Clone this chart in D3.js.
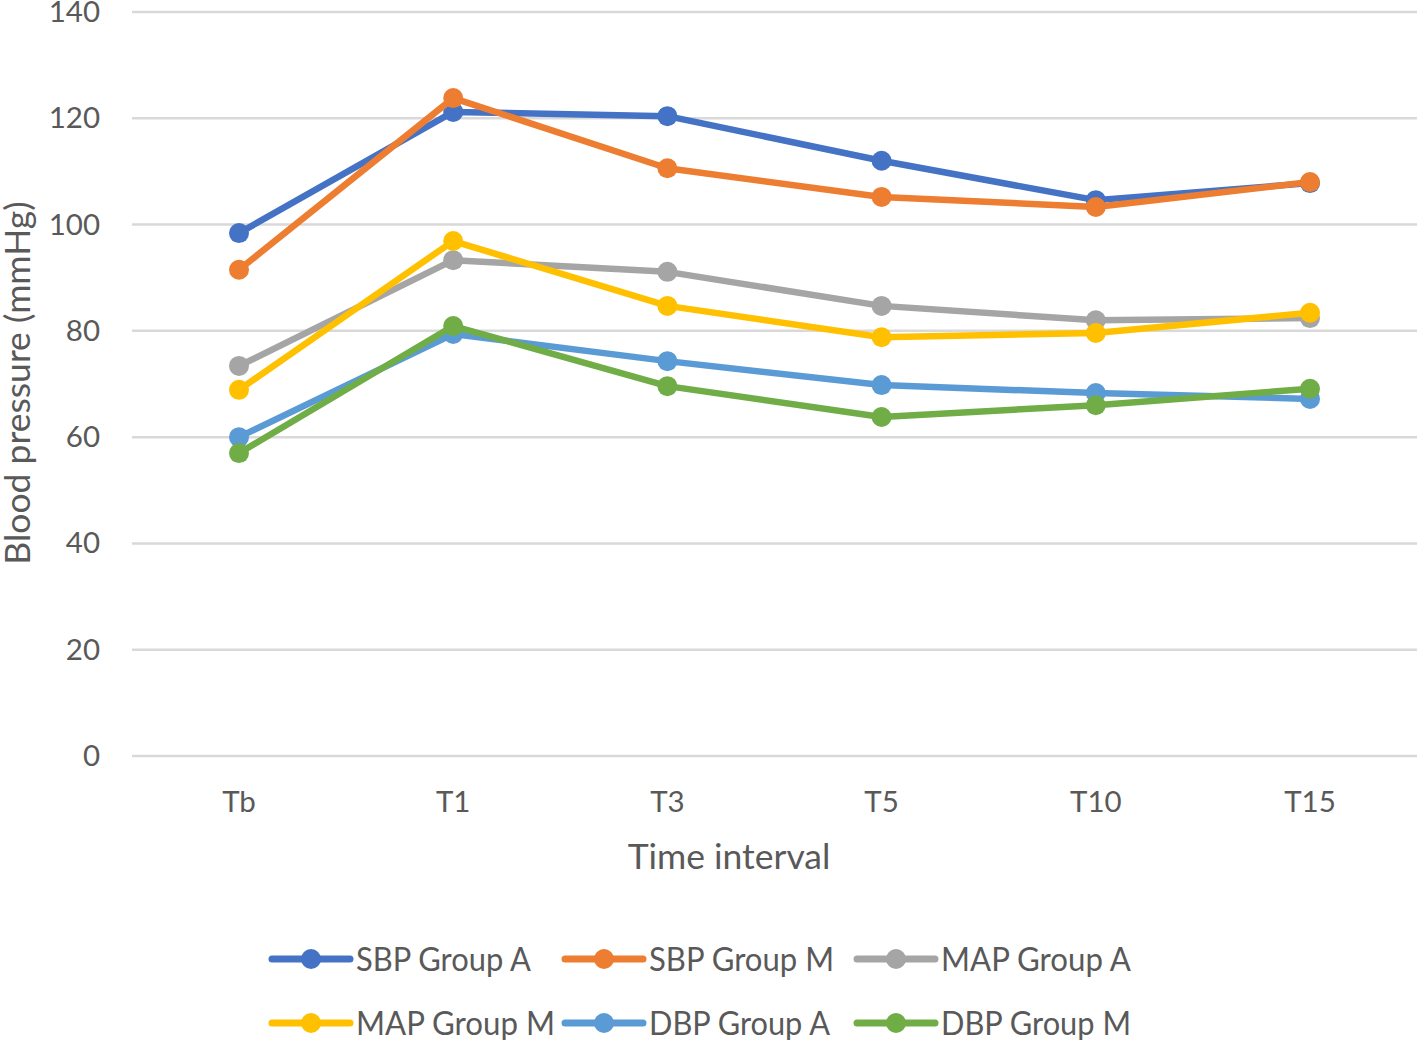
<!DOCTYPE html>
<html><head><meta charset="utf-8">
<script src="https://cdn.jsdelivr.net/npm/d3@7"></script>
<style>body{margin:0;background:#fff}svg{display:block}text{font-family:Lato,"Open Sans",sans-serif;fill:#595959}</style>
</head><body>
<script>
const categories = ["Tb","T1","T3","T5","T10","T15"];
const seriesNames = ["SBP Group A","SBP Group M","MAP Group A","MAP Group M","DBP Group A","DBP Group M"];
const sbpA = [98.4,121.2,120.4,112.0,104.6,107.8];
const sbpM = [91.5,123.8,110.6,105.2,103.3,108.0];
const mapA = [73.4,93.3,91.1,84.7,82.0,82.4];
const mapM = [68.9,96.9,84.7,78.8,79.6,83.4];
const dbpA = [60.0,79.4,74.3,69.8,68.3,67.2];
const dbpM = [57.0,80.9,69.6,63.8,66.0,69.1];
const colors = ["#4472C4","#ED7D31","#A5A5A5","#FFC000","#5B9BD5","#70AD47"];
const yTicks = [0,20,40,60,80,100,120,140];
const series = [sbpA,sbpM,mapA,mapM,dbpA,dbpM];

const W=1417,H=1040;
const svg=d3.select("body").append("svg").attr("width",W).attr("height",H);
const x=d3.scalePoint().domain(categories).range([239,1310]);
const y=d3.scaleLinear().domain([0,140]).range([756,12]);

svg.append("g").selectAll("line").data(yTicks).join("line")
 .attr("x1",132).attr("x2",1417).attr("y1",d=>y(d)).attr("y2",d=>y(d))
 .attr("stroke","#D9D9D9").attr("stroke-width",2.5);
svg.append("g").selectAll("text").data(yTicks).join("text")
 .attr("x",100).attr("y",d=>y(d)+10).attr("text-anchor","end").attr("font-size",29.5).text(d=>d);
svg.append("g").selectAll("text").data(categories).join("text")
 .attr("x",d=>x(d)).attr("y",812).attr("text-anchor","middle").attr("font-size",29.5).text(d=>d);
svg.append("text").attr("x",729).attr("y",869).attr("text-anchor","middle").attr("font-size",35.5).text("Time interval");
svg.append("text").attr("transform","translate(30,383) rotate(-90)").attr("text-anchor","middle").attr("font-size",35.5).text("Blood pressure (mmHg)");

const line=d3.line().x((d,i)=>x(categories[i])).y(d=>y(d));
series.forEach((s,k)=>{
  const g=svg.append("g");
  g.append("path").datum(s).attr("d",line).attr("fill","none").attr("stroke",colors[k]).attr("stroke-width",6.5).attr("stroke-linejoin","round");
  g.selectAll("circle").data(s).join("circle").attr("cx",(d,i)=>x(categories[i])).attr("cy",d=>y(d)).attr("r",10).attr("fill",colors[k]);
});

const legX=[272,565,857], legY=[959,1023], legLen=[175,185,190,199,181,190];
seriesNames.forEach((n,k)=>{
  const lx=legX[k%3], ly=legY[Math.floor(k/3)];
  const g=svg.append("g");
  g.append("line").attr("x1",lx).attr("x2",lx+78).attr("y1",ly).attr("y2",ly).attr("stroke",colors[k]).attr("stroke-width",7).attr("stroke-linecap","round");
  g.append("circle").attr("cx",lx+39).attr("cy",ly).attr("r",10).attr("fill",colors[k]);
  g.append("text").attr("x",lx+84).attr("y",ly+12).attr("font-size",32).attr("textLength",legLen[k]).attr("lengthAdjust","spacingAndGlyphs").text(n);
});
</script>
</body></html>
